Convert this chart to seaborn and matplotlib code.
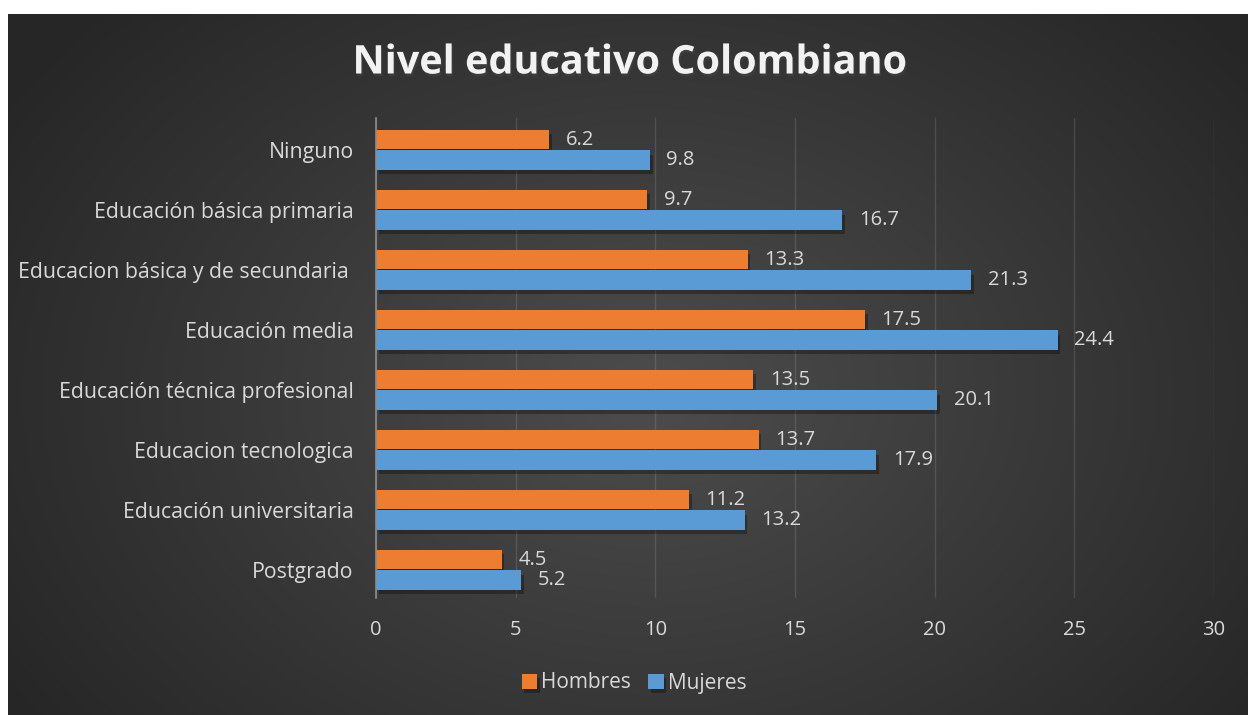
import numpy as np
import pandas as pd
import seaborn as sns
import matplotlib.pyplot as plt
import matplotlib.patheffects as pe

# datos
categorias = ['Ninguno', 'Educación básica primaria', 'Educacion básica y de secundaria ',
              'Educación media', 'Educación técnica profesional', 'Educacion tecnologica',
              'Educación universitaria', 'Postgrado']
hombres = [6.2, 9.7, 13.3, 17.5, 13.5, 13.7, 11.2, 4.5]
mujeres = [9.8, 16.7, 21.3, 24.4, 20.1, 17.9, 13.2, 5.2]
series = ['Hombres', 'Mujeres']
colores = ['#ED7D31', '#5B9BD5']
xticks = [0, 5, 10, 15, 20, 25, 30]

df = pd.DataFrame({
    'categoria': categorias * 2,
    'valor': hombres + mujeres,
    'sexo': ['Hombres'] * len(categorias) + ['Mujeres'] * len(categorias),
})

sns.set_style('dark')
plt.rcParams['font.family'] = ['Open Sans', 'DejaVu Sans']
txt = '#d9d9d9'

fig = plt.figure(figsize=(12.48, 7.15), dpi=100, facecolor='white')

# fondo con degradado radial
bg = fig.add_axes([8 / 1248, 0, 1240 / 1248, 701 / 715])
h, w = 701, 1240
yy, xx = np.mgrid[0:h, 0:w]
cx, cy = 640, 380
r = np.sqrt(((xx - cx) / 760) ** 2 + ((yy - cy) / 560) ** 2)
r = np.clip(r, 0, 1)
v = 0.30 - 0.15 * r
bg.imshow(np.dstack([v, v, v]), aspect='auto', extent=[0, 1, 0, 1])
bg.axis('off')

ax = fig.add_axes([376 / 1248, 1 - 598 / 715, 838 / 1248, 480 / 715])
ax.patch.set_alpha(0)

sns.barplot(data=df, y='categoria', x='valor', hue='sexo', hue_order=series,
            palette=colores, orient='h', width=0.68, gap=0.05, ax=ax,
            saturation=1, linewidth=0, legend=True)

for p in ax.patches:
    p.set_path_effects([pe.SimplePatchShadow(offset=(2, -3), alpha=0.3, shadow_rgbFace='black'),
                        pe.Normal()])

for c in ax.containers:
    ax.bar_label(c, fmt='%.1f', padding=12, color=txt, fontsize=14.5)

ax.set_xlim(0, 30)
ax.set_ylim(7.467, -0.533)
ax.set_xticks(xticks)
ax.set_xlabel('')
ax.set_ylabel('')
ax.tick_params(axis='x', colors=txt, labelsize=14.5, length=0, pad=16)
ax.tick_params(axis='y', colors=txt, labelsize=15.3, length=0, pad=16)
ax.grid(axis='x', color='#ffffff', alpha=0.12, linewidth=1)
ax.grid(axis='y', visible=False)
for s in ['top', 'right', 'bottom']:
    ax.spines[s].set_visible(False)
ax.spines['left'].set_color('#8c8c8c')
ax.spines['left'].set_linewidth(1.2)
ax.spines['left'].set_zorder(5)

leg = ax.legend(loc='center', bbox_to_anchor=((634 - 376) / 838, (598 - 683) / 480), ncol=2,
                frameon=False, fontsize=15, handlelength=0.75, handleheight=0.75,
                handletextpad=0.2, columnspacing=0.8)
for t in leg.get_texts():
    t.set_color(txt)
for hd in leg.legend_handles:
    hd.set_linewidth(0)

fig.text(630 / 1248, 1 - 63 / 715, 'Nivel educativo Colombiano', ha='center', va='center',
         fontsize=28.5, fontweight='bold', color='#f2f2f2',
         path_effects=[pe.withSimplePatchShadow(offset=(1, -2), alpha=0.4)])

fig.savefig('out.png', dpi=100, facecolor='white')
